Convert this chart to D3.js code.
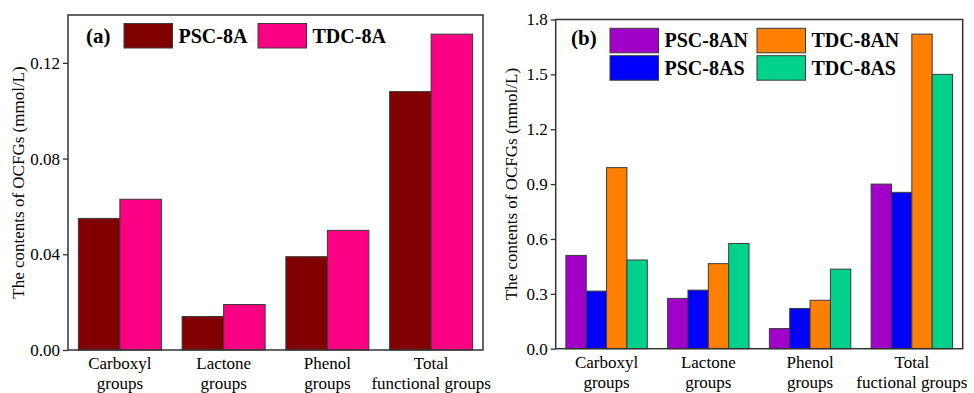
<!DOCTYPE html>
<html>
<head>
<meta charset="utf-8">
<script src="https://cdn.jsdelivr.net/npm/d3@7"></script>
<style>
  body { margin: 0; background: #fff; }
</style>
</head>
<body>
<div id="wrapper"></div>
<script>
// categories (two lines each)
var categoriesA = [["Carboxyl", "groups"], ["Lactone", "groups"], ["Phenol", "groups"], ["Total", "functional groups"]];
var categoriesB = [["Carboxyl", "groups"], ["Lactone", "groups"], ["Phenol", "groups"], ["Total", "fuctional groups"]];

// panel (a)
var seriesA = ["PSC-8A", "TDC-8A"];
var psc8a = [0.055, 0.014, 0.039, 0.108];
var tdc8a = [0.063, 0.019, 0.050, 0.132];
var ticksA = [0, 0.04, 0.08, 0.12];

// panel (b)
var seriesB = ["PSC-8AN", "PSC-8AS", "TDC-8AN", "TDC-8AS"];
var psc8an = [0.51, 0.275, 0.11, 0.90];
var psc8as = [0.315, 0.32, 0.22, 0.855];
var tdc8an = [0.99, 0.465, 0.265, 1.72];
var tdc8as = [0.485, 0.575, 0.435, 1.50];
var ticksB = [0, 0.3, 0.6, 0.9, 1.2, 1.5, 1.8];

var serif = "'Liberation Serif'";

var svg = d3.select("#wrapper")
            .append("svg")
            .attr("width", 974)
            .attr("height", 393);

function drawPanel(opt) {
    var g = svg.append("g");
    var names = opt.categories.map(function(d) { return d.join(" "); });

    var x = d3.scaleBand()
                .domain(names)
                .range([opt.left, opt.right])
                .paddingInner(0.2)
                .paddingOuter(0.1);
    var xs = d3.scaleBand()
                .domain(opt.series)
                .range([0, x.bandwidth()]);
    var y = d3.scaleLinear()
                .domain(opt.domain)
                .range([opt.bottom, opt.top]);

    // bars
    opt.series.forEach(function(s, si) {
        g.selectAll("rect.s" + si)
            .data(opt.values[si])
            .enter()
            .append("rect")
            .attr("x", function(d, i) { return x(names[i]) + xs(s); })
            .attr("y", function(d) { return y(d); })
            .attr("width", xs.bandwidth())
            .attr("height", function(d) { return y(0) - y(d); })
            .attr("fill", opt.colors[si])
            .attr("stroke", "#3a3a3a")
            .attr("stroke-width", 1);
    });

    // y axis
    var yAxis = g.append("g")
        .attr("transform", "translate(" + opt.left + ",0)")
        .call(d3.axisLeft(y).tickValues(opt.ticks).tickFormat(d3.format(opt.fmt)).tickSize(5).tickPadding(3));
    yAxis.select(".domain").remove();
    yAxis.selectAll("line").attr("stroke", "#333").attr("stroke-width", 1.3);
    yAxis.selectAll("text")
        .style("font-family", serif)
        .style("font-size", "17px")
        .style("fill", "#000");

    // frame
    g.append("rect")
        .attr("x", opt.left)
        .attr("y", opt.top)
        .attr("width", opt.right - opt.left)
        .attr("height", opt.bottom - opt.top)
        .attr("fill", "none")
        .attr("stroke", "#333")
        .attr("stroke-width", 1.5);

    // category labels
    var lab = g.selectAll("text.cat")
        .data(opt.categories)
        .enter()
        .append("text")
        .attr("class", "cat")
        .attr("text-anchor", "middle")
        .style("font-family", serif)
        .style("font-size", "17px")
        .attr("x", function(d, i) { return x(names[i]) + x.bandwidth() / 2; })
        .attr("y", opt.bottom + 19);
    lab.append("tspan")
        .attr("x", function(d, i) { return x(names[i]) + x.bandwidth() / 2; })
        .text(function(d) { return d[0]; });
    lab.append("tspan")
        .attr("x", function(d, i) { return x(names[i]) + x.bandwidth() / 2; })
        .attr("dy", 20)
        .text(function(d) { return d[1]; });

    // y title
    g.append("text")
        .attr("transform", "translate(" + opt.titleX + "," + ((opt.top + opt.bottom) / 2) + ") rotate(-90)")
        .attr("text-anchor", "middle")
        .style("font-family", serif)
        .style("font-size", "17px")
        .text("The contents of OCFGs (mmol/L)");

    // panel letter
    g.append("text")
        .attr("x", opt.letterX)
        .attr("y", opt.letterY)
        .style("font-family", serif)
        .style("font-size", "21px")
        .style("font-weight", "bold")
        .text(opt.letter);

    // legend
    opt.series.forEach(function(s, si) {
        var col = Math.floor(si / opt.legRows);
        var row = si % opt.legRows;
        var lx = opt.legX + col * opt.legColW;
        var ly = opt.legY + row * 27.4;
        g.append("rect")
            .attr("x", lx)
            .attr("y", ly)
            .attr("width", 48.5)
            .attr("height", 24.5)
            .attr("fill", opt.colors[si])
            .attr("stroke", "#3a3a3a")
            .attr("stroke-width", 1);
        g.append("text")
            .attr("x", lx + 54.5)
            .attr("y", ly + 19)
            .style("font-family", serif)
            .style("font-size", "20px")
            .style("font-weight", "bold")
            .text(s);
    });
}

drawPanel({
    categories: categoriesA,
    series: seriesA,
    values: [psc8a, tdc8a],
    colors: ["#800000", "#FA0082"],
    ticks: ticksA,
    fmt: ".2f",
    domain: [0, 0.14],
    left: 68, right: 483, top: 15, bottom: 350,
    titleX: 24,
    letter: "(a)", letterX: 86, letterY: 43,
    legX: 124, legY: 23.5, legRows: 1, legColW: 134
});

drawPanel({
    categories: categoriesB,
    series: seriesB,
    values: [psc8an, psc8as, tdc8an, tdc8as],
    colors: ["#A000C8", "#0000FF", "#FF8000", "#00D28C"],
    ticks: ticksB,
    fmt: ".1f",
    domain: [0, 1.8],
    left: 555.7, right: 962.7, top: 19.5, bottom: 348.7,
    titleX: 517,
    letter: "(b)", letterX: 571, letterY: 45,
    legX: 610, legY: 28.3, legRows: 2, legColW: 147
});
</script>
</body>
</html>
